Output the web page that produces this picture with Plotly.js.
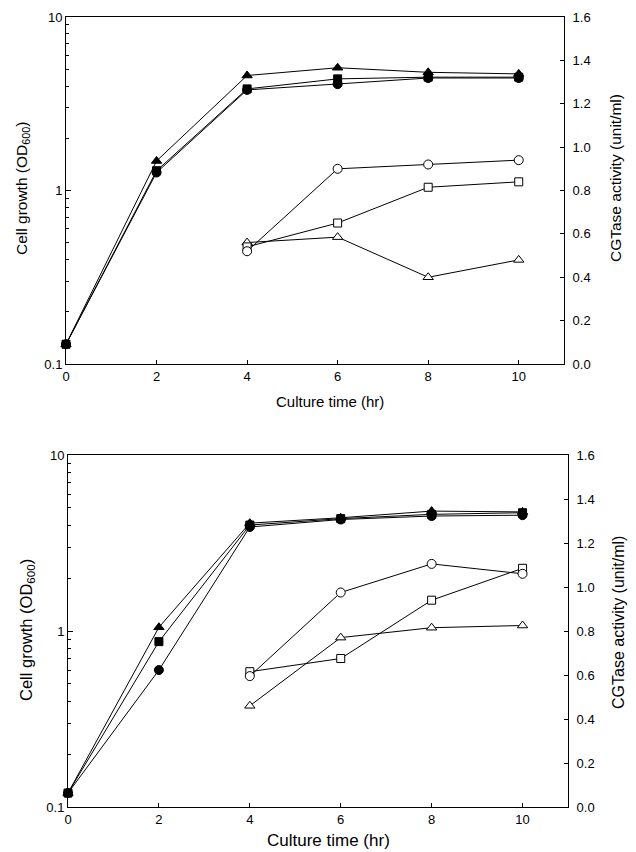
<!DOCTYPE html>
<html>
<head>
<meta charset="utf-8">
<script src="https://cdn.plot.ly/plotly-3.0.1.min.js"></script>
<style>html,body{margin:0;padding:0;background:#fff}#chart{width:636px;height:852px}</style>
</head>
<body>
<div id="chart"></div>
<script>
// ---- data ----
var time = [0, 2, 4, 6, 8, 10];
var timeAct = [4, 6, 8, 10];
var xTickVals = [0, 2, 4, 6, 8, 10];
var logTickVals = [0.1, 1, 10];
var logTickText = ['0.1', '1', '10'];
var logMinorVals = [0.2, 0.3, 0.4, 0.5, 0.6, 0.7, 0.8, 0.9, 2, 3, 4, 5, 6, 7, 8, 9];
var actTickVals = [0, 0.2, 0.4, 0.6, 0.8, 1.0, 1.2, 1.4, 1.6];

// top panel
var growthTriA = [0.13, 1.48, 4.6, 5.1, 4.8, 4.7];
var growthSqA  = [0.13, 1.30, 3.85, 4.4, 4.5, 4.5];
var growthCirA = [0.13, 1.27, 3.8, 4.1, 4.45, 4.45];
var actTriA = [0.56, 0.585, 0.40, 0.48];
var actSqA  = [0.54, 0.65, 0.815, 0.84];
var actCirA = [0.52, 0.90, 0.92, 0.94];

// bottom panel
var growthTriB = [0.12, 1.05, 4.1, 4.4, 4.8, 4.75];
var growthSqB  = [0.12, 0.87, 4.0, 4.35, 4.6, 4.7];
var growthCirB = [0.12, 0.60, 3.9, 4.3, 4.5, 4.55];
var actTriB = [0.46, 0.77, 0.815, 0.825];
var actSqB  = [0.615, 0.675, 0.94, 1.085];
var actCirB = [0.595, 0.975, 1.105, 1.06];

var FONT = 'Liberation Sans, Arial, sans-serif';

function tr(x, y, xa, ya, sym, filled, size) {
  return {
    x: x, y: y, xaxis: xa, yaxis: ya, type: 'scatter', mode: 'lines+markers',
    cliponaxis: false, showlegend: false,
    line: {color: '#000', width: 1},
    marker: {symbol: sym, size: size, color: filled ? '#000' : '#fff',
             line: {color: '#000', width: 1}}
  };
}

var data = [
  tr(time, growthCirA, 'x', 'y', 'circle', true, 9),
  tr(time, growthSqA, 'x', 'y', 'square', true, 8),
  tr(time, growthTriA, 'x', 'y', 'triangle-up', true, 9),
  tr(timeAct, actTriA, 'x', 'y2', 'triangle-up', false, 9),
  tr(timeAct, actSqA, 'x', 'y2', 'square', false, 8),
  tr(timeAct, actCirA, 'x', 'y2', 'circle', false, 9),
  tr(time, growthCirB, 'x2', 'y3', 'circle', true, 9),
  tr(time, growthSqB, 'x2', 'y3', 'square', true, 8),
  tr(time, growthTriB, 'x2', 'y3', 'triangle-up', true, 9),
  tr(timeAct, actTriB, 'x2', 'y4', 'triangle-up', false, 9),
  tr(timeAct, actSqB, 'x2', 'y4', 'square', false, 8),
  tr(timeAct, actCirB, 'x2', 'y4', 'circle', false, 9)
];

var W = 636, H = 852;
function xd(a, b) { return [a / W, b / W]; }
function yd(top, bottom) { return [1 - bottom / H, 1 - top / H]; }

var tickFont = {family: FONT, size: 13, color: '#000'};

function xAxis(dom, anchor) {
  return {domain: dom, anchor: anchor, range: [0, 11], tickmode: 'array', tickvals: xTickVals,
    ticks: 'inside', ticklen: 4, tickcolor: '#000', showline: true, linecolor: '#000', linewidth: 1,
    mirror: true, showgrid: false, zeroline: false, tickfont: tickFont};
}
function logAxis(dom, anchor) {
  return {domain: dom, anchor: anchor, type: 'log', range: [-1, 1], tickmode: 'array',
    tickvals: logTickVals, ticktext: logTickText, ticks: 'inside', ticklen: 5, tickcolor: '#000',
    minor: {tickmode: 'array', tickvals: logMinorVals, ticks: 'inside', ticklen: 3, tickcolor: '#000', showgrid: false},
    showline: true, linecolor: '#000', linewidth: 1, mirror: true, showgrid: false, zeroline: false,
    tickfont: tickFont};
}
function actAxis(over, anchor) {
  return {overlaying: over, anchor: anchor, side: 'right', range: [0, 1.6], tickmode: 'array',
    tickvals: actTickVals, tickformat: '.1f', ticks: 'inside', ticklen: 4, tickcolor: '#000',
    showline: true, linecolor: '#000', linewidth: 1, showgrid: false, zeroline: false,
    tickfont: tickFont, ticklabelstandoff: 5};
}

function ann(text, x, y, angle, size) {
  return {text: text, x: x / W, y: 1 - y / H, xref: 'paper', yref: 'paper', showarrow: false,
    textangle: angle || 0, font: {family: FONT, size: size, color: '#000'},
    xanchor: 'center', yanchor: 'middle'};
}

var layout = {
  width: W, height: H, margin: {l: 0, r: 0, t: 0, b: 0},
  paper_bgcolor: '#fff', plot_bgcolor: '#fff', showlegend: false,
  xaxis: xAxis(xd(66, 564), 'y'),
  yaxis: logAxis(yd(17, 364), 'x'),
  yaxis2: actAxis('y', 'x'),
  xaxis2: xAxis(xd(68, 568), 'y3'),
  yaxis3: logAxis(yd(455, 807), 'x2'),
  yaxis4: actAxis('y3', 'x2'),
  annotations: [
    ann('Culture time (hr)', 330, 401, 0, 15),
    ann('Culture time (hr)', 328, 840, 0, 17),
    ann('Cell growth (OD<sub>600</sub>)', 23, 188, -90, 15.5),
    ann('Cell growth (OD<sub>600</sub>)', 27, 630, -90, 16.5),
    ann('CGTase activity (unit/ml)', 615, 178, -90, 15.5),
    ann('CGTase activity (unit/ml)', 618, 623, -90, 16)
  ]
};

Plotly.newPlot('chart', data, layout, {displayModeBar: false, staticPlot: true});
</script>
</body>
</html>
